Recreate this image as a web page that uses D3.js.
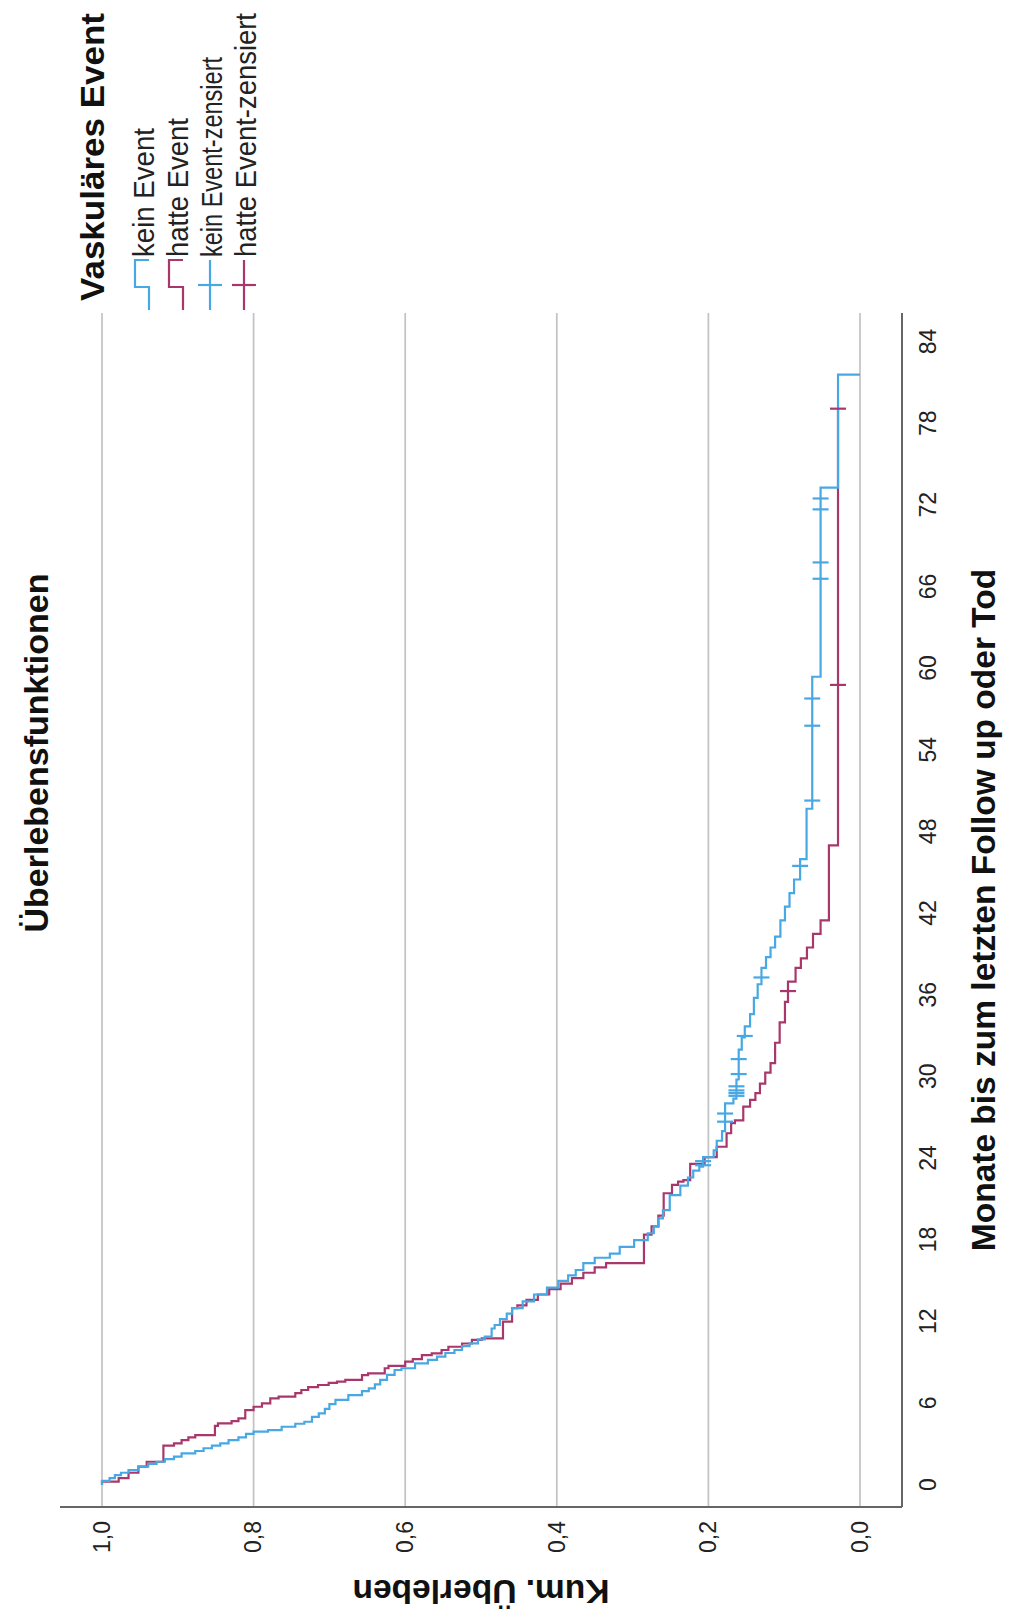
<!DOCTYPE html>
<html><head><meta charset="utf-8">
<script src="https://cdn.jsdelivr.net/npm/d3@7"></script>
<style>html,body{margin:0;padding:0;background:#fff}svg{display:block}</style>
</head><body>
<script>
// ---------- data ----------
const chartTitle = "Überlebensfunktionen";
const xAxisTitle = "Monate bis zum letzten Follow up oder Tod";
const yAxisTitle = "Kum. Überleben";
const legendTitle = "Vaskuläres Event";
const legendLabels = ["kein Event", "hatte Event", "kein Event-zensiert", "hatte Event-zensiert"];
const xTickValues = [0, 6, 12, 18, 24, 30, 36, 42, 48, 54, 60, 66, 72, 78, 84];
const yTickValues = [0, 0.2, 0.4, 0.6, 0.8, 1.0];

// "kein Event": event times (months) and survival after each step
const keinTimes = [0.3,0.5,0.73,0.9,1.1,1.35,1.55,1.71,1.9,2.08,2.33,2.5,2.7,2.9,3.06,3.3,3.5,3.75,3.92,4.04,4.28,4.5,4.65,5.0,5.27,5.6,5.95,6.25,6.61,6.9,7.1,7.4,7.72,8.1,8.45,8.58,8.94,9.2,9.43,9.7,9.92,10.2,10.41,10.7,10.9,11.5,11.76,12.2,12.6,13.0,13.5,14.0,14.5,15.0,15.4,15.8,16.3,16.7,17.0,17.5,18.0,18.5,19.0,19.6,20.2,21.3,22.0,22.6,23.1,23.4,24.1,24.6,25.3,26.0,28.05,28.4,29.8,32.0,32.9,33.7,34.6,35.8,36.8,38.0,38.8,39.5,40.3,41.5,42.5,43.5,44.5,46.0,49.7,59.4,73.3,81.6];
const keinSurv = [0.99,0.983,0.975,0.965,0.952,0.939,0.928,0.917,0.905,0.895,0.877,0.866,0.855,0.844,0.833,0.82,0.81,0.8,0.781,0.763,0.745,0.733,0.723,0.714,0.706,0.7,0.692,0.675,0.657,0.648,0.64,0.633,0.624,0.614,0.605,0.587,0.57,0.558,0.547,0.535,0.525,0.515,0.504,0.495,0.486,0.482,0.475,0.466,0.459,0.445,0.43,0.413,0.398,0.385,0.375,0.365,0.35,0.33,0.317,0.298,0.28,0.272,0.266,0.26,0.251,0.237,0.227,0.22,0.212,0.207,0.193,0.189,0.182,0.178,0.167,0.163,0.16,0.156,0.152,0.145,0.14,0.135,0.13,0.124,0.118,0.112,0.105,0.099,0.093,0.087,0.079,0.0705,0.063,0.052,0.029,0];
const keinEnd = 81.6;
const keinCensored = [23.5,23.8,26.7,27.3,28.6,28.8,29.0,29.3,30.2,31.3,33.0,37.3,45.5,50.3,55.8,57.8,66.6,67.8,71.7,72.5];

// "hatte Event"
const hatteTimes = [0.25,0.5,0.9,1.35,1.71,2.9,3.06,3.3,3.5,3.67,4.34,4.53,4.7,4.9,5.5,5.75,6.0,6.37,6.49,6.75,6.98,7.2,7.35,7.5,7.59,7.72,8.08,8.2,8.58,8.75,9.06,9.25,9.55,9.68,9.92,10.16,10.4,10.66,10.78,12.0,13.0,13.2,13.6,14.0,14.4,14.8,15.2,15.6,16.0,16.3,18.4,19.0,19.8,21.44,22.05,22.3,22.4,23.6,24.1,24.86,25.85,26.6,26.8,27.8,28.3,28.8,29.5,30.3,31.0,32.5,34.0,35.5,37.0,38.0,38.7,39.5,40.5,41.5,47.0];
const hatteSurv = [0.978,0.965,0.952,0.941,0.919,0.905,0.895,0.886,0.877,0.851,0.847,0.829,0.82,0.811,0.8,0.789,0.778,0.767,0.745,0.737,0.728,0.715,0.701,0.69,0.679,0.657,0.649,0.627,0.622,0.6,0.59,0.578,0.565,0.552,0.543,0.525,0.512,0.499,0.471,0.459,0.452,0.44,0.425,0.41,0.395,0.38,0.365,0.35,0.335,0.285,0.275,0.266,0.259,0.248,0.24,0.233,0.224,0.205,0.189,0.176,0.17,0.165,0.154,0.145,0.138,0.132,0.125,0.118,0.112,0.106,0.099,0.095,0.085,0.078,0.07,0.062,0.052,0.041,0.029];
const hatteEnd = 79.1;
const hatteCensored = [36.3, 58.8, 79.1];

const colorKein = "#48a8e4";
const colorHatte = "#a8386b";

// ---------- layout (chart drawn in its own frame, then rotated onto the page) ----------
const PW = 1009, PH = 1619;       // page size
const svg = d3.select("body").append("svg").attr("width", PW).attr("height", PH);
const g = svg.append("g").attr("transform", `translate(0,${PH}) rotate(-90)`);
const font = "'Liberation Sans', Arial, sans-serif";

const x = d3.scaleLinear().domain([0, 84]).range([134, 1277]);
const y = d3.scaleLinear().domain([0, 1]).range([860, 102]);
const xAxisStart = 112, xAxisEnd = 1306, yAxisTop = 60, axisY = 902;

// gridlines
g.append("g").selectAll("line").data(yTickValues).join("line")
  .attr("x1", xAxisStart).attr("x2", xAxisEnd)
  .attr("y1", d => y(d)).attr("y2", d => y(d))
  .attr("stroke", "#c2c2c2").attr("stroke-width", 1.7);

// tick labels via d3 axes
const fmt = d => d.toFixed(1).replace(".", ",");
const gx = g.append("g").attr("transform", `translate(0,${axisY})`)
  .call(d3.axisBottom(x).tickValues(xTickValues).tickSize(0).tickPadding(18));
const gy = g.append("g").attr("transform", `translate(${xAxisStart},0)`)
  .call(d3.axisLeft(y).tickValues(yTickValues).tickFormat(fmt).tickSize(0).tickPadding(14));
[gx, gy].forEach(a => {
  a.select(".domain").remove();
  a.selectAll("text").attr("font-family", font).attr("font-size", 23).attr("fill", "#222");
});

// axis lines
g.append("line").attr("x1", xAxisStart).attr("x2", xAxisStart).attr("y1", yAxisTop).attr("y2", axisY)
  .attr("stroke", "#666").attr("stroke-width", 2);
g.append("line").attr("x1", xAxisStart).attr("x2", xAxisEnd).attr("y1", axisY).attr("y2", axisY)
  .attr("stroke", "#666").attr("stroke-width", 2);

// survival step curves
function stepPoints(times, surv, end) {
  const pts = [[0, 1]];
  times.forEach((t, i) => pts.push([t, surv[i]]));
  pts.push([end, surv[surv.length - 1]]);
  return pts;
}
function survAt(times, surv, t) {
  const i = d3.bisectRight(times, t);
  return i === 0 ? 1 : surv[i - 1];
}
const line = d3.line().x(d => x(d[0])).y(d => y(d[1])).curve(d3.curveStepAfter);
const series = [
  {times: keinTimes, surv: keinSurv, end: keinEnd, cens: keinCensored, color: colorKein},
  {times: hatteTimes, surv: hatteSurv, end: hatteEnd, cens: hatteCensored, color: colorHatte}
];
series.slice().reverse().forEach(s => {
  g.append("path").datum(stepPoints(s.times, s.surv, s.end))
    .attr("d", line).attr("fill", "none").attr("stroke", s.color)
    .attr("stroke-width", 2.2).attr("stroke-linejoin", "miter");
});
series.forEach(s => {
  g.append("g").selectAll("line").data(s.cens).join("line")
    .attr("x1", d => x(d)).attr("x2", d => x(d))
    .attr("y1", d => y(survAt(s.times, s.surv, d)) - 8)
    .attr("y2", d => y(survAt(s.times, s.surv, d)) + 8)
    .attr("stroke", s.color).attr("stroke-width", 2.2);
});

// titles
g.append("text").text(chartTitle).attr("x", 866).attr("y", 48)
  .attr("text-anchor", "middle").attr("font-family", font).attr("font-weight", "bold")
  .attr("font-size", 34).attr("fill", "#111");
g.append("text").text(xAxisTitle).attr("x", (xAxisStart + xAxisEnd) / 2).attr("y", 995)
  .attr("text-anchor", "middle").attr("font-family", font).attr("font-weight", "bold")
  .attr("font-size", 33.5).attr("fill", "#111");
g.append("text").text(yAxisTitle)
  .attr("transform", `translate(39,${(yAxisTop + axisY) / 2}) rotate(-90)`)
  .attr("text-anchor", "middle").attr("font-family", font).attr("font-weight", "bold")
  .attr("font-size", 33.5).attr("fill", "#111");

// legend
const lg = g.append("g");
lg.append("text").text(legendTitle).attr("x", 1318).attr("y", 104)
  .attr("textLength", 288).attr("lengthAdjust", "spacingAndGlyphs")
  .attr("font-family", font).attr("font-weight", "bold").attr("font-size", 34).attr("fill", "#111");
const rowY = [154, 188, 222, 256];
const rowLen = [129, 139, 200, 244];
const legColors = [colorKein, colorHatte, colorKein, colorHatte];
legendLabels.forEach((lab, i) => {
  const by = rowY[i], cy = by - 12;
  lg.append("text").text(lab).attr("x", 1362).attr("y", by)
    .attr("textLength", rowLen[i]).attr("lengthAdjust", "spacingAndGlyphs")
    .attr("font-family", font).attr("font-size", 29).attr("fill", "#222");
  if (i < 2) {
    lg.append("path")
      .attr("d", `M1309,${cy + 7} H1332 V${cy - 7} H1359 V${cy + 7}`)
      .attr("fill", "none").attr("stroke", legColors[i]).attr("stroke-width", 2.2);
  } else {
    lg.append("line").attr("x1", 1309).attr("x2", 1359).attr("y1", cy).attr("y2", cy)
      .attr("stroke", legColors[i]).attr("stroke-width", 2.2);
    lg.append("line").attr("x1", 1334).attr("x2", 1334).attr("y1", cy - 12).attr("y2", cy + 12)
      .attr("stroke", legColors[i]).attr("stroke-width", 2.2);
  }
});
</script>
</body></html>
